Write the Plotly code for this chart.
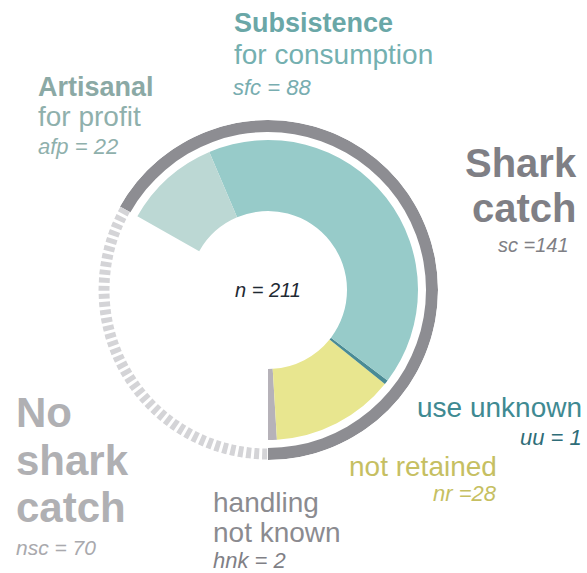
import numpy as np
import plotly.graph_objects as go

# ---- data ----
inner_labels = ["hnk", "nr", "uu", "sfc", "afp"]
inner_values = [2, 28, 1, 88, 22]
outer_labels = ["sc", "nsc"]
outer_values = [141, 70]
total_n = 211

inner_colors = ["#b6b2b9", "#e8e68f", "#4a8b95", "#97cbc9", "#bcd8d4"]
ring_color = "#8d8d92"
dash_color = "#d4d4d7"

W, H = 587, 573
cx, cy, R = 268, 290, 170

deg = 360.0 / total_n
starts = np.concatenate([[0], np.cumsum(inner_values)[:-1]])
centers = [(s + v / 2) * deg for s, v in zip(starts, inner_values)]
widths = [v * deg for v in inner_values]

fig = go.Figure()
fig.add_trace(go.Barpolar(
    theta=centers, width=widths, r=[71] * len(inner_values), base=79,
    marker=dict(color=inner_colors, line=dict(width=0)),
    hoverinfo="skip", showlegend=False))

sc_deg = outer_values[0] * deg
fig.add_trace(go.Barpolar(
    theta=[sc_deg / 2], width=[sc_deg], r=[12], base=158,
    marker=dict(color=ring_color, line=dict(width=0)),
    hoverinfo="skip", showlegend=False))

arc_theta = np.linspace(sc_deg, sc_deg + outer_values[1] * deg, 200)
fig.add_trace(go.Scatterpolar(
    theta=arc_theta, r=[164] * len(arc_theta), mode="lines",
    line=dict(color=dash_color, width=11, dash="5px,3px"),
    hoverinfo="skip", showlegend=False))

fig.update_layout(
    width=W, height=H, autosize=False,
    margin=dict(l=0, r=0, t=0, b=0),
    paper_bgcolor="white", plot_bgcolor="white",
    polar=dict(
        domain=dict(x=[(cx - R) / W, (cx + R) / W], y=[1 - (cy + R) / H, 1 - (cy - R) / H]),
        bgcolor="white", bargap=0,
        radialaxis=dict(visible=False, range=[0, R]),
        angularaxis=dict(visible=False, rotation=-90, direction="counterclockwise"),
    ),
    font=dict(family="Liberation Sans, Arial, sans-serif"),
)

# (text, x_px, y_center_px, anchor, size, color, bold, italic)
labels = [
    ("Subsistence", 233, 23.5, "left", 27, "#6aa7a7", True, False),
    ("for consumption", 233, 55, "left", 28, "#74b0b0", False, False),
    ("sfc = 88", 232, 87, "left", 22, "#78adb0", False, True),
    ("Artisanal", 37, 86.5, "left", 27, "#8ba9a5", True, False),
    ("for profit", 37, 116, "left", 28, "#8fb0ac", False, False),
    ("afp = 22", 37, 146, "left", 22, "#8fb0ac", False, True),
    ("Shark", 578, 163, "right", 40, "#7f7f85", True, False),
    ("catch", 578, 208, "right", 40, "#7f7f85", True, False),
    ("sc =141", 570, 245, "right", 20, "#7f7f85", False, True),
    ("use unknown", 583, 407.5, "right", 28, "#3f8a92", False, False),
    ("uu = 1", 583, 437, "right", 22, "#2f6d78", False, True),
    ("not retained", 498, 466, "right", 28, "#c6bf62", False, False),
    ("nr =28", 498, 493, "right", 22, "#c6bf62", False, True),
    ("handling", 212, 503, "left", 28, "#8b8b90", False, False),
    ("not known", 212, 532, "left", 28, "#8b8b90", False, False),
    ("hnk = 2", 212, 560, "left", 22, "#808086", False, True),
    ("No", 15, 412, "left", 42, "#b0b0b3", True, False),
    ("shark", 15, 460, "left", 42, "#b0b0b3", True, False),
    ("catch", 15, 507, "left", 42, "#b0b0b3", True, False),
    ("nsc = 70", 15, 547, "left", 21, "#a9a9ad", False, True),
    ("n = %d" % total_n, cx, cy, "center", 20, "#1f2a33", False, True),
]

for text, x, y, anchor, size, color, bold, italic in labels:
    t = text
    if bold:
        t = "<b>%s</b>" % t
    if italic:
        t = "<i>%s</i>" % t
    fig.add_annotation(
        text=t, xref="paper", yref="paper", x=x / W, y=1 - y / H,
        xanchor=anchor, yanchor="middle", showarrow=False,
        font=dict(size=size, color=color), borderpad=0,
    )

fig.write_html(
    "out.html",
    config={"displayModeBar": False},
    post_script="document.body.style.margin='0';document.body.style.padding='0';",
)
